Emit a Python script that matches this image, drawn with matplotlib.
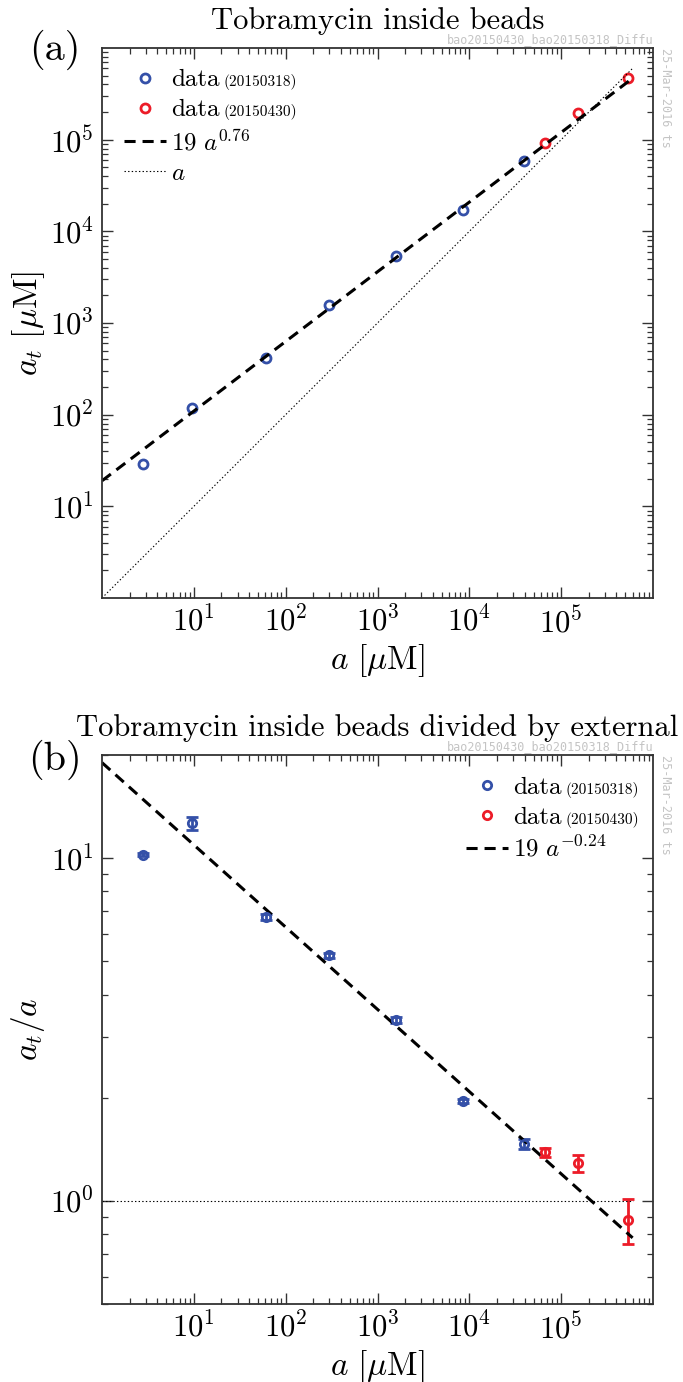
import numpy as np
import matplotlib
matplotlib.use('Agg')
import matplotlib.pyplot as plt
from matplotlib.ticker import LogLocator, NullFormatter, FixedLocator

# data
a_0318 = [2.83, 9.44, 61.4, 300, 1607, 8630, 39600]
at_0318 = [29.0, 119.4, 414, 1560, 5415, 16900, 57900]
ratio_err_0318 = [0.10, 0.55, 0.15, 0.08, 0.07, 0.03, 0.05]

a_0430 = [66900, 151000, 532000]
at_0430 = [92700, 194800, 468000]
ratio_err_0430 = [0.04, 0.075, 0.133]

fit_coef = 19
fit_exp = 0.76
fit_range = (1.0, 6.0e5)

tags = ['(20150318)', '(20150430)']

blue = '#3450a8'
red = '#ec1c28'
spine_col = '#333333'

plt.rcParams.update({
    'font.family': 'cmr10',
    'mathtext.fontset': 'cm',
    'axes.formatter.use_mathtext': True,
    'axes.unicode_minus': False,
    'lines.scale_dashes': False,
})

W, H = 683, 1382
fig = plt.figure(figsize=(W / 100, H / 100), dpi=100)


def px_axes(left, top, right, bottom):
    return fig.add_axes([left / W, 1 - bottom / H, (right - left) / W, (bottom - top) / H])


def style_axes(ax):
    ax.set_xscale('log')
    ax.set_yscale('log')
    for s in ax.spines.values():
        s.set_color(spine_col)
        s.set_linewidth(1.3)
    ax.tick_params(which='both', direction='in', top=True, right=True,
                   colors=spine_col, labelcolor='black', labelsize=22, pad=6)
    ax.tick_params(which='major', length=8, width=1.0)
    ax.tick_params(which='minor', length=4, width=0.9)
    ax.xaxis.set_major_locator(FixedLocator([1e1, 1e2, 1e3, 1e4, 1e5]))
    ax.xaxis.set_minor_locator(LogLocator(base=10, subs=np.arange(2, 10), numticks=20))
    ax.xaxis.set_minor_formatter(NullFormatter())
    ax.yaxis.set_minor_formatter(NullFormatter())
    ax.set_xlim(1, 1e6)


def stamp(ax):
    ax.text(1.0, 1.003, 'bao20150430_bao20150318_Diffu', transform=ax.transAxes,
            ha='right', va='bottom', fontsize=8.5, color='#c4c4c4', family='DejaVu Sans Mono')
    ax.text(1.01, 1.0, '25-Mar-2016 ts', transform=ax.transAxes, rotation=270,
            ha='left', va='top', fontsize=8.5, color='#c4c4c4', family='DejaVu Sans Mono')


a_fit = np.logspace(np.log10(fit_range[0]), np.log10(fit_range[1]), 100)
leg_kw = dict(frameon=False, fontsize=18, numpoints=1, handlelength=1.67,
              handletextpad=0.2, labelspacing=0.3, borderpad=0, borderaxespad=0,
              loc='upper left')

# ---------------- (a) ----------------
ax1 = px_axes(102, 48, 653, 598)
style_axes(ax1)
ax1.set_ylim(1, 1e6)
ax1.yaxis.set_major_locator(FixedLocator([1e1, 1e2, 1e3, 1e4, 1e5]))
ax1.yaxis.set_minor_locator(LogLocator(base=10, subs=np.arange(2, 10), numticks=20))

ax1.plot(a_0318, at_0318, 'o', mfc='none', mec=blue, mew=2.0, ms=6.5, label='data')
ax1.plot(a_0430, at_0430, 'o', mfc='none', mec=red, mew=2.0, ms=6.5, label='data')
ax1.plot(a_fit, fit_coef * a_fit ** fit_exp, color='k', lw=2.2, dashes=(8, 5),
         label=r'$19\ a^{%.2f}$' % fit_exp)
ax1.plot(a_fit, a_fit, color='k', lw=0.8, dashes=(1, 1.6), label=r'$a$')

ax1.set_xlabel(r'$a\ [\mu\mathrm{M}]$', fontsize=24, labelpad=2)
ax1.set_ylabel(r'$a_t\ [\mu\mathrm{M}]$', fontsize=24, labelpad=2)
ax1.set_title('Tobramycin inside beads', fontsize=22, pad=14)
leg1 = ax1.legend(bbox_to_anchor=(22 / 551, 1 - 21 / 550), **leg_kw)
stamp(ax1)
fig.text(55 / W, 1 - 50 / H, '(a)', fontsize=29, ha='center', va='center')

# ---------------- (b) ----------------
ax2 = px_axes(102, 755, 653, 1304)
style_axes(ax2)
ax2.set_ylim(0.5, 20)
ax2.yaxis.set_major_locator(FixedLocator([1, 10]))
ax2.yaxis.set_minor_locator(LogLocator(base=10, subs=np.arange(2, 10), numticks=20))

ratio_0318 = np.array(at_0318) / np.array(a_0318)
ratio_0430 = np.array(at_0430) / np.array(a_0430)

eb1 = ax2.errorbar(a_0318, ratio_0318, yerr=ratio_err_0318, fmt='o', mfc='none', mec=blue,
                   mew=2.0, ms=6, ecolor=blue, elinewidth=2.0, capsize=4, capthick=2.0)
eb2 = ax2.errorbar(a_0430, ratio_0430, yerr=ratio_err_0430, fmt='o', mfc='none', mec=red,
                   mew=2.0, ms=6, ecolor=red, elinewidth=2.0, capsize=4, capthick=2.0)
fit2, = ax2.plot(a_fit, fit_coef * a_fit ** (fit_exp - 1), color='k', lw=2.2, dashes=(8, 5))
ax2.plot(a_fit, np.ones_like(a_fit), color='k', lw=0.8, dashes=(1, 1.6))

ax2.set_xlabel(r'$a\ [\mu\mathrm{M}]$', fontsize=24, labelpad=2)
ax2.set_ylabel(r'$a_t/a$', fontsize=24, labelpad=2)
ax2.set_title('Tobramycin inside beads divided by external', fontsize=22, pad=14)
leg2 = ax2.legend([eb1[0], eb2[0], fit2],
                  ['data', 'data', r'$19\ a^{-%.2f}$' % (1 - fit_exp)],
                  bbox_to_anchor=(364 / 551, 1 - 21 / 549), **leg_kw)
stamp(ax2)
fig.text(55 / W, 1 - 760 / H, '(b)', fontsize=29, ha='center', va='center')

# small date tags after the "data" legend labels
fig.canvas.draw()
renderer = fig.canvas.get_renderer()
for leg in (leg1, leg2):
    for txt, tag in zip(leg.get_texts()[:2], tags):
        bb = txt.get_window_extent(renderer)
        _, _, d = renderer.get_text_width_height_descent('lp', txt.get_fontproperties(), ismath=False)
        fig.text((bb.x1 + 4.5) / W, (bb.y0 + d) / H, tag, fontsize=11,
                 ha='left', va='baseline')

fig.savefig('out.png', dpi=100)
